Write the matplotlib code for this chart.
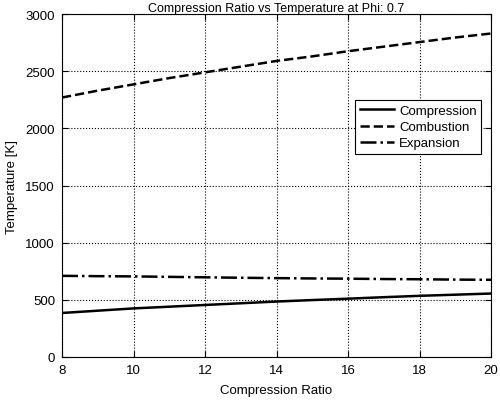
import matplotlib
matplotlib.use("Agg")
import matplotlib.pyplot as plt

plt.rcParams["font.family"] = ["Liberation Sans", "DejaVu Sans"]

# ── data ─────────────────────────────────────────────────────────────────────
ratio       = [8, 9, 10, 11, 12, 13, 14, 15, 16, 17, 18, 19, 20]
compression = [385, 405, 425, 440, 455, 470, 485, 498, 510, 523, 535, 545, 555]
combustion  = [2270, 2330, 2385, 2440, 2490, 2540, 2590, 2630, 2675, 2715, 2755, 2795, 2830]
expansion   = [710, 707, 705, 701, 697, 693, 690, 687, 685, 682, 680, 677, 675]

xticks = [8, 10, 12, 14, 16, 18, 20]
yticks = [0, 500, 1000, 1500, 2000, 2500, 3000]

# ── plot ─────────────────────────────────────────────────────────────────────
fig = plt.figure(figsize=(5.0, 4.02), dpi=100)
ax = fig.add_axes([0.124, 0.1095, 0.858, 0.853])

ax.plot(ratio, compression, "-", color="black", lw=1.8, label="Compression")
ax.plot(ratio, combustion, "--", color="black", lw=1.8, label="Combustion")
ax.plot(ratio, expansion, "-.", color="black", lw=1.8, label="Expansion")

ax.set_xlim(8, 20)
ax.set_ylim(0, 3000)
ax.set_xticks(xticks)
ax.set_yticks(yticks)
ax.tick_params(direction="in", top=True, right=True, labelsize=9.5, length=4, pad=5)
ax.grid(True, linestyle=":", color="black", lw=0.8)

ax.set_title("Compression Ratio vs Temperature at Phi: 0.7", fontsize=9, pad=2)
ax.set_xlabel("Compression Ratio", fontsize=9.5, labelpad=6)
ax.set_ylabel("Temperature [K]", fontsize=9.5, labelpad=5)

leg = ax.legend(loc="upper right", bbox_to_anchor=(0.993, 0.768), fontsize=9.5,
                fancybox=False, framealpha=1, edgecolor="black",
                handlelength=2.6, borderpad=0.35, labelspacing=0.3,
                handletextpad=0.4)
leg.get_frame().set_linewidth(0.8)

fig.savefig("out.png", dpi=100)
